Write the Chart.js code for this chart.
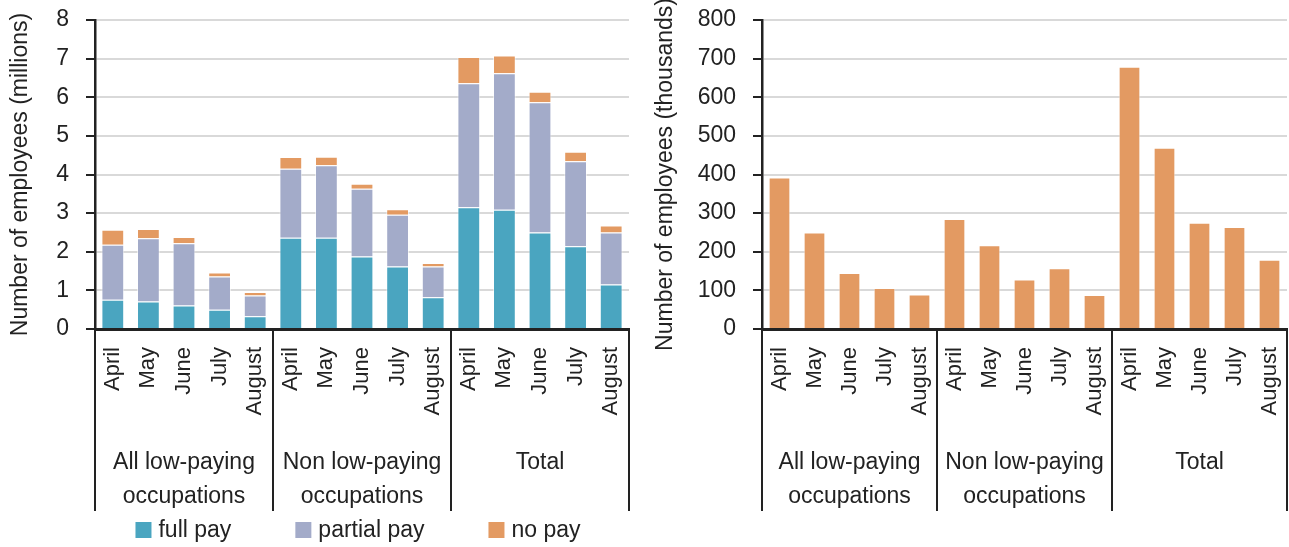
<!DOCTYPE html>
<html>
<head>
<meta charset="utf-8">
<script src="https://cdn.jsdelivr.net/npm/chart.js@4.4.0/dist/chart.umd.min.js"></script>
<style>
  html, body { margin: 0; padding: 0; background: #fff; }
  #wrap { position: relative; width: 1289px; height: 547px; }
  #payChart { position: absolute; left: 0; top: 0; }
  #noJobChart { position: absolute; left: 640px; top: 0; }
</style>
</head>
<body>
<div id="wrap">
  <canvas id="payChart" width="640" height="547"></canvas>
  <canvas id="noJobChart" width="649" height="547"></canvas>
</div>
<script>
// categories
const months = ["April", "May", "June", "July", "August"];
const groups = [["All low-paying", "occupations"], ["Non low-paying", "occupations"], ["Total"]];

// left chart, millions of employees
const fullPay    = [0.76, 0.71, 0.61, 0.50, 0.33,  2.36, 2.36, 1.88, 1.62, 0.82,  3.15, 3.09, 2.50, 2.14, 1.15];
const partialPay = [1.42, 1.64, 1.61, 0.86, 0.54,  1.79, 1.88, 1.75, 1.34, 0.80,  3.21, 3.53, 3.37, 2.20, 1.35];
const noPay      = [0.39, 0.24, 0.16, 0.10, 0.09,  0.30, 0.22, 0.13, 0.14, 0.09,  0.68, 0.46, 0.27, 0.25, 0.18];

// right chart, thousands of employees
const noPayThousands = [392, 250, 145, 106, 89,  285, 217, 128, 157, 88,  679, 469, 275, 264, 179];

const labels = groups.flatMap(() => months);

const TEXT = "#222";
const FONT = "'Liberation Sans', Arial, sans-serif";
Chart.defaults.font.family = FONT;
Chart.defaults.font.size = 23;
Chart.defaults.color = TEXT;

// group labels under the month ticks + divider lines
const groupAxis = {
  id: "groupAxis",
  afterDraw(chart) {
    const ctx = chart.ctx;
    const x = chart.scales.x;
    const area = chart.chartArea;
    const step = x.getPixelForValue(1) - x.getPixelForValue(0);
    ctx.save();
    ctx.strokeStyle = TEXT;
    ctx.lineWidth = 2;
    for (let g = 0; g <= groups.length; g++) {
      const px = Math.round(x.getPixelForValue(g * months.length) - step / 2);
      ctx.beginPath();
      ctx.moveTo(px, area.bottom);
      ctx.lineTo(px, 511);
      ctx.stroke();
    }
    ctx.fillStyle = TEXT;
    ctx.font = "23px " + FONT;
    ctx.textAlign = "center";
    ctx.textBaseline = "alphabetic";
    groups.forEach((lines, g) => {
      const cx = (x.getPixelForValue(g * months.length) + x.getPixelForValue(g * months.length + months.length - 1)) / 2;
      lines.forEach((t, i) => ctx.fillText(t, cx, 469 + i * 34));
    });
    ctx.restore();
  }
};

// legend row at the bottom of the left chart
const payLegend = {
  id: "payLegend",
  afterDraw(chart) {
    const ctx = chart.ctx;
    const sets = chart.data.datasets;
    const box = 16, gap = 7, space = 64;
    ctx.save();
    ctx.font = "23px " + FONT;
    const widths = sets.map(d => box + gap + ctx.measureText(d.label).width);
    const total = widths.reduce((a, b) => a + b, 0) + space * (sets.length - 1);
    let x = (chart.chartArea.left + chart.chartArea.right) / 2 - 4 - total / 2;
    sets.forEach((d, i) => {
      ctx.fillStyle = d.backgroundColor;
      ctx.fillRect(x, 522, box, box);
      ctx.fillStyle = TEXT;
      ctx.textAlign = "left";
      ctx.textBaseline = "alphabetic";
      ctx.fillText(d.label, x + box + gap, 537);
      x += widths[i] + space;
    });
    ctx.restore();
  }
};

function yAxis(max, step, title, width, titlePad) {
  return {
    stacked: true,
    min: 0,
    max: max,
    ticks: { stepSize: step, padding: 17, color: TEXT },
    grid: { color: "#d9d9d9", lineWidth: 2, tickColor: TEXT, tickLength: 9, tickWidth: 2 },
    border: { color: TEXT, width: 2.5 },
    title: { display: true, text: title, color: TEXT, padding: { top: titlePad, bottom: 0 } },
    afterFit(s) {
      s.width = width;
      s.paddingTop = 0;
      s.paddingBottom = 0;
    }
  };
}

function xAxis() {
  return {
    stacked: true,
    ticks: { minRotation: 90, maxRotation: 90, autoSkip: false, padding: 18, font: { size: 22 }, color: TEXT },
    grid: { display: false, drawTicks: false },
    border: { color: TEXT, width: 3 },
    afterFit(s) {
      s.height = 218;
      s.paddingLeft = 0;
      s.paddingRight = 0;
    }
  };
}

const barBorder = "rgba(255,255,255,0.55)";

new Chart(document.getElementById("payChart"), {
  type: "bar",
  data: {
    labels: labels,
    datasets: [
      { label: "full pay", data: fullPay, backgroundColor: "#4AA5C0", borderColor: barBorder, borderWidth: 1 },
      { label: "partial pay", data: partialPay, backgroundColor: "#A3ABC9", borderColor: barBorder, borderWidth: 1 },
      { label: "no pay", data: noPay, backgroundColor: "#E39A62", borderColor: barBorder, borderWidth: 1 },
    ],
  },
  options: {
    responsive: false,
    animation: false,
    barPercentage: 0.64,
    categoryPercentage: 1,
    layout: { padding: { top: 20, right: 11, left: 0, bottom: 0 } },
    plugins: { legend: { display: false }, tooltip: { enabled: false } },
    scales: {
      x: xAxis(),
      y: yAxis(8, 1, "Number of employees (millions)", 95, 7),
    },
  },
  plugins: [groupAxis, payLegend],
});

new Chart(document.getElementById("noJobChart"), {
  type: "bar",
  data: {
    labels: labels,
    datasets: [
      { label: "no pay", data: noPayThousands, backgroundColor: "#E39A62", borderColor: barBorder, borderWidth: 1 },
    ],
  },
  options: {
    responsive: false,
    animation: false,
    barPercentage: 0.62,
    categoryPercentage: 1,
    layout: { padding: { top: 20, right: 2, left: 0, bottom: 0 } },
    plugins: { legend: { display: false }, tooltip: { enabled: false } },
    scales: {
      x: xAxis(),
      y: yAxis(800, 100, "Number of employees (thousands)", 122, 12),
    },
  },
  plugins: [groupAxis],
});
</script>
</body>
</html>
